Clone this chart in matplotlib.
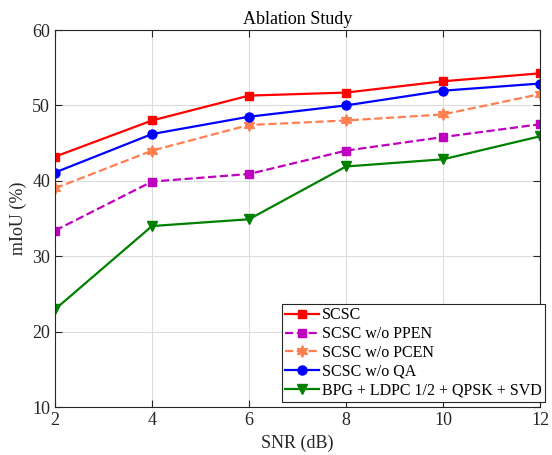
import matplotlib
matplotlib.use("Agg")
import matplotlib.pyplot as plt

snr = [2, 4, 6, 8, 10, 12]
scsc = [43.2, 48.0, 51.3, 51.7, 53.2, 54.25]
wo_ppen = [33.4, 39.9, 40.9, 44.0, 45.8, 47.5]
wo_pcen = [39.0, 44.0, 47.4, 48.0, 48.8, 51.5]
wo_qa = [41.1, 46.2, 48.5, 50.0, 51.95, 52.9]
bpg = [22.95, 34.0, 34.9, 41.9, 42.85, 45.9]

labels = ["SCSC", "SCSC w/o PPEN", "SCSC w/o PCEN", "SCSC w/o QA",
          "BPG + LDPC 1/2 + QPSK + SVD"]

plt.rcParams['font.family'] = ['Liberation Serif', 'DejaVu Serif']
plt.rcParams['mathtext.fontset'] = 'stix'

fig = plt.figure(figsize=(5.52, 4.55), dpi=100)
ax = fig.add_axes([55/552, 1-407/455, 485/552, 377/455])

ax.plot(snr, scsc, '-', color='#ff0000', marker='s', ms=5.5, lw=1.6, label=labels[0])
ax.plot(snr, wo_ppen, '--', color='#bf00bf', marker='s', ms=5.5, lw=1.6, label=labels[1])
ax.plot(snr, wo_pcen, '--', color='#ff7f50', marker=(6, 1, 0), ms=8.5, lw=1.6, label=labels[2])
ax.plot(snr, wo_qa, '-', color='#0000ff', marker='o', ms=6.5, lw=1.6, label=labels[3])
ax.plot(snr, bpg, '-', color='#008000', marker='v', ms=6.5, lw=1.6, label=labels[4])

ax.set_xlim(2, 12)
ax.set_ylim(10, 60)
ax.set_xticks([2, 4, 6, 8, 10, 12])
ax.set_yticks([10, 20, 30, 40, 50, 60])
ax.grid(True, color='#dcdcdc', lw=0.8)
ax.set_axisbelow(True)
ax.tick_params(direction='in', top=True, right=True, labelsize=13, colors='#262626', length=5)
for s in ax.spines.values():
    s.set_color('#262626')
    s.set_linewidth(0.8)
ax.set_xlabel('SNR (dB)', fontsize=13, color='#262626')
ax.set_ylabel('mIoU (%)', fontsize=13, color='#262626')
ax.set_title('Ablation Study', fontsize=13, color='#000000', pad=4)

leg = ax.legend(loc='lower right', bbox_to_anchor=(1.0103, 0.0133), fontsize=11.5,
                frameon=True, fancybox=False, edgecolor='#262626', framealpha=1,
                borderaxespad=0, handlelength=2.1, handletextpad=0.2,
                labelspacing=0.18, borderpad=0.2)
leg.get_frame().set_linewidth(0.8)

fig.savefig('out.png', dpi=100)
